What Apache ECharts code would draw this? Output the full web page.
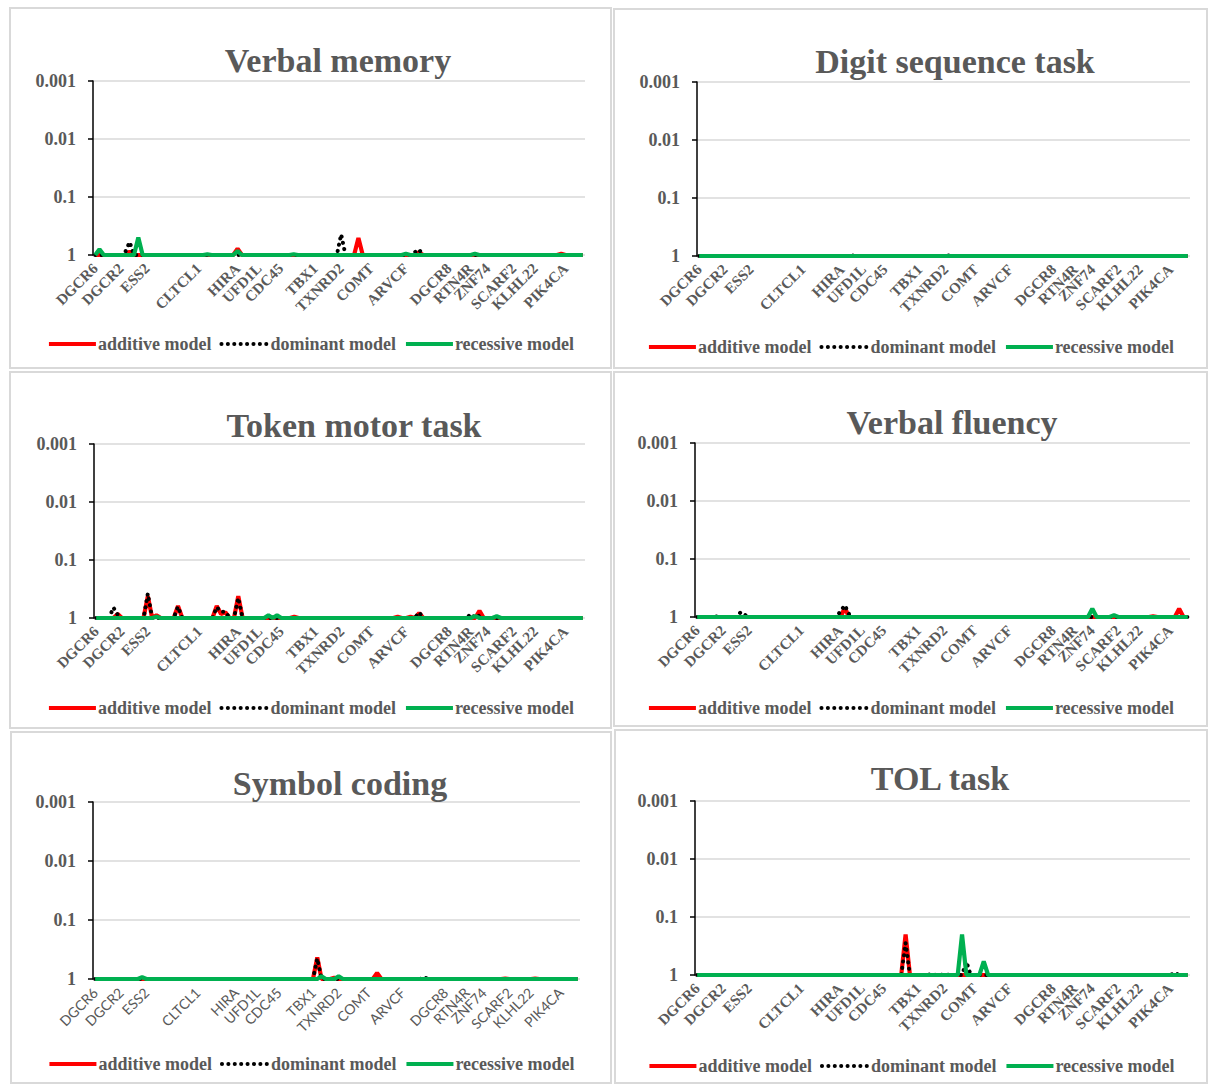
<!DOCTYPE html>
<html>
<head>
<meta charset="utf-8">
<script src="https://cdn.jsdelivr.net/npm/echarts@6/dist/echarts.min.js"></script>
<style>
  html, body { margin: 0; padding: 0; background: #fff; width: 1210px; height: 1084px; overflow: hidden; }
  .frame { position: absolute; box-sizing: border-box; border: 2px solid #d9d9d9; background: #fff; }
  .chart { position: absolute; }
</style>
</head>
<body>
<script>
// Genes of the 22q11 region, in chromosomal order, with the number of SNPs typed in each
const geneNames = ['DGCR6', 'DGCR2', 'ESS2', 'CLTCL1', 'HIRA', 'UFD1L', 'CDC45', 'TBX1', 'TXNRD2',
  'COMT', 'ARVCF', 'DGCR8', 'RTN4R', 'ZNF74', 'SCARF2', 'KLHL22', 'PIK4CA'];
const snpCounts = [6, 6, 12, 9, 5, 5, 8, 6, 7, 8, 10, 5, 4, 6, 5, 7, 5];

const yTickLabels = ['0.001', '0.01', '0.1', '1'];
const seriesNames = ['additive model', 'dominant model', 'recessive model'];
const panelTitles = ['Verbal memory', 'Digit sequence task', 'Token motor task',
  'Verbal fluency', 'Symbol coding', 'TOL task'];

// P values per SNP (one row per gene, same order as geneNames)
const verbalMemoryAdditive = [
  1,1,1,1,1,1,
  1,1,0.88,1,1,1,
  1,1,1,1,1,1,1,1,1,1,1,1,
  1,1,1,1,1,1,1,1,1,
  0.78,1,1,1,1,
  1,1,1,1,1,
  1,1,1,1,1,1,1,1,
  1,1,1,1,1,1,
  1,1,1,1,0.51,1,1,
  1,1,1,1,1,1,1,1,
  1,1,1,0.9,1,1,1,1,1,1,
  1,1,1,1,1,
  1,1,1,1,
  1,1,1,1,1,1,
  1,1,1,1,1,
  1,1,1,1,1,1,0.95,
  1,1,1,1,1
];
const verbalMemoryDominant = [
  1,1,1,1,1,1,
  1,0.88,0.6,1,1,1,
  1,1,1,1,1,1,1,1,1,1,1,1,
  1,1,1,1,1,1,1,1,1,
  1,1,1,1,1,
  1,1,1,1,1,
  1,1,1,1,1,1,1,1,
  1,1,1,1,1,1,
  0.44,1,1,1,1,1,1,
  1,1,1,1,1,1,1,1,
  1,1,0.9,0.8,1,1,1,1,1,1,
  1,1,1,1,1,
  1,1,1,1,
  1,1,1,1,1,1,
  1,1,1,1,1,
  1,1,1,1,1,1,1,
  1,1,1,1,1
];
const verbalMemoryRecessive = [
  1,0.8,1,1,1,1,
  1,1,1,1,0.5,1,
  1,1,1,1,1,1,1,1,1,1,1,1,
  1,1,0.97,1,1,1,1,1,1,
  0.85,1,1,1,1,
  1,1,1,1,1,
  1,1,1,0.97,1,1,1,1,
  1,1,1,1,1,1,
  1,1,1,1,1,1,1,
  1,1,1,1,1,1,1,1,
  0.95,1,1,1,1,1,1,1,1,1,
  1,1,1,1,1,
  1,0.95,1,1,
  1,1,1,1,1,1,
  1,1,1,1,1,
  1,1,1,1,1,1,1,
  1,1,1,1,1
];

const digitSequenceAdditive = [
  1,1,1,1,1,1,
  1,1,1,1,1,1,
  1,1,1,1,1,1,1,1,1,1,1,1,
  1,1,1,1,1,1,1,1,1,
  1,1,1,1,1,
  1,1,1,1,1,
  1,1,1,1,1,1,1,1,
  1,1,1,1,1,1,
  1,1,1,1,1,1,1,
  1,1,1,1,1,1,1,1,
  1,1,1,1,1,1,1,1,1,1,
  1,1,1,1,1,
  1,1,1,1,
  1,1,1,1,1,1,
  1,1,1,1,1,
  1,1,1,1,1,1,1,
  1,1,1,1,1
];
const digitSequenceDominant = [
  1,1,1,1,1,1,
  1,1,1,1,1,1,
  1,1,1,1,1,1,1,1,1,1,1,1,
  1,1,1,1,1,1,1,1,1,
  1,1,1,0.97,1,
  1,1,1,1,1,
  1,1,1,1,1,1,1,1,
  1,1,1,1,1,1,
  1,0.97,1,1,1,1,1,
  1,1,1,1,1,1,1,1,
  1,1,1,1,1,1,1,1,1,1,
  1,1,1,1,1,
  1,1,1,1,
  1,1,1,1,1,1,
  1,1,1,1,1,
  1,1,1,1,1,1,1,
  1,1,1,1,1
];
const digitSequenceRecessive = [
  1,1,1,1,1,1,
  1,1,1,1,1,1,
  1,1,1,1,1,1,1,1,1,1,1,1,
  1,1,1,1,1,1,1,1,1,
  1,1,1,1,1,
  1,1,1,1,1,
  1,1,1,1,1,1,1,1,
  1,1,1,1,1,1,
  1,1,1,1,1,1,1,
  1,1,1,1,1,1,1,1,
  1,1,1,1,1,1,1,1,1,1,
  1,1,1,1,1,
  1,1,1,1,
  1,1,1,1,1,1,
  1,1,1,1,1,
  1,1,1,1,1,1,1,
  1,1,1,1,1
];

const tokenMotorAdditive = [
  1,1,1,1,1,0.85,
  1,1,1,1,1,1,
  0.42,1,0.9,1,1,1,1,0.62,1,1,1,1,
  1,1,1,1,0.62,0.85,0.8,1,1,
  0.42,1,1,1,1,
  1,1,1,1,1,
  1,1,1,0.95,1,1,1,1,
  1,1,1,1,1,1,
  1,1,1,1,1,1,1,
  1,1,1,1,1,1,0.95,1,
  1,0.95,1,0.82,1,1,1,1,1,1,
  1,1,1,1,1,
  1,1,0.75,1,
  1,1,1,1,1,1,
  1,1,1,1,1,
  1,1,1,1,1,1,1,
  1,1,1,1,1
];
const tokenMotorDominant = [
  1,1,1,1,0.66,0.88,
  1,1,1,1,1,1,
  0.38,1,1,1,1,1,1,0.64,1,1,1,1,
  1,1,1,1,0.65,0.78,0.78,1,1,
  0.45,1,1,1,1,
  1,1,1,1,1,
  1,1,1,1,1,1,1,1,
  1,1,1,1,1,1,
  1,1,1,1,1,1,1,
  1,1,1,1,1,1,1,1,
  1,1,1,0.8,1,1,1,1,1,1,
  1,1,1,1,1,
  0.85,1,0.9,1,
  1,1,1,1,1,1,
  1,1,1,1,1,
  1,1,1,1,1,1,1,
  1,1,1,1,1
];
const tokenMotorRecessive = [
  1,1,1,1,1,1,
  1,1,1,1,1,1,
  1,1,0.95,1,1,1,1,1,1,1,1,1,
  1,1,1,1,1,1,1,1,1,
  1,1,1,1,1,
  1,1,0.9,1,0.9,
  1,1,1,1,1,1,1,1,
  1,1,1,1,1,1,
  1,1,1,1,1,1,1,
  1,1,1,1,1,1,1,1,
  1,1,1,1,1,1,1,1,1,1,
  1,1,1,1,1,
  1,0.93,1,1,
  1,1,0.93,1,1,1,
  1,1,1,1,1,
  1,1,1,1,1,1,1,
  1,1,1,1,1
];

const verbalFluencyAdditive = [
  1,1,1,1,1,1,
  1,1,1,1,1,1,
  1,1,1,1,1,1,1,1,1,1,1,1,
  1,1,1,1,1,1,1,1,1,
  1,0.7,1,1,1,
  1,1,1,1,1,
  1,1,1,1,1,1,1,1,
  1,1,1,1,1,1,
  1,1,1,1,1,1,1,
  1,1,1,1,1,1,1,1,
  1,1,1,1,1,1,1,1,1,1,
  1,1,1,1,1,
  1,1,1,1,
  1,1,1,1,1,1,
  1,1,1,1,1,
  1,1,1,0.97,1,1,1,
  1,1,0.72,1,1
];
const verbalFluencyDominant = [
  1,1,1,1,0.97,1,
  1,1,1,1,0.83,0.92,
  1,1,1,1,1,1,1,1,1,1,1,1,
  1,1,1,1,1,1,1,1,1,
  0.8,0.63,0.9,1,1,
  1,1,1,1,1,
  1,1,1,1,1,1,1,1,
  1,1,1,1,1,1,
  1,1,1,1,1,1,1,
  1,1,1,1,1,1,1,1,
  1,1,1,1,1,1,1,1,1,1,
  1,1,1,1,1,
  1,1,1,1,
  1,1,1,1,1,1,
  1,1,1,1,1,
  1,1,1,1,1,1,1,
  1,1,1,1,1
];
const verbalFluencyRecessive = [
  1,1,1,1,1,1,
  1,1,1,1,1,1,
  1,1,1,1,1,1,1,1,1,1,1,1,
  1,1,1,1,1,1,1,1,1,
  1,1,1,1,1,
  1,1,1,1,1,
  1,1,1,1,1,1,1,1,
  1,1,1,1,1,1,
  1,1,1,1,1,1,1,
  1,1,1,1,1,1,1,1,
  1,1,1,1,1,1,1,1,1,1,
  1,1,1,1,1,
  1,1,1,1,
  0.72,1,1,1,1,0.93,
  1,1,1,1,1,
  1,1,1,1,1,1,1,
  1,1,1,1,1
];

const symbolCodingAdditive = [
  1,1,1,1,1,1,
  1,1,1,1,1,1,
  1,1,1,1,1,1,1,1,1,1,1,1,
  1,1,1,1,1,1,1,1,1,
  1,1,1,1,1,
  1,1,1,1,1,
  1,1,1,1,1,1,1,1,
  1,0.43,1,1,1,0.95,
  1,1,1,1,1,1,1,
  1,1,0.79,1,1,1,1,1,
  1,1,1,1,1,1,1,1,1,1,
  1,1,1,1,1,
  1,1,1,1,
  1,1,1,1,1,0.98,
  1,1,1,1,1,
  1,0.98,1,1,1,1,1,
  1,1,1,1,1
];
const symbolCodingDominant = [
  1,1,1,1,1,1,
  1,1,1,1,1,1,
  1,1,1,1,1,1,1,1,1,1,1,1,
  1,1,1,1,1,1,1,1,1,
  1,1,1,1,1,
  1,1,1,1,1,
  1,1,1,1,1,1,1,1,
  1,0.45,1,1,1,1,
  1,1,1,1,1,1,1,
  1,1,1,1,1,1,1,1,
  1,1,1,1,1,0.93,1,1,1,1,
  1,1,1,1,1,
  1,1,1,1,
  1,1,1,1,1,1,
  1,1,1,1,1,
  1,1,1,1,1,1,1,
  1,1,1,1,1
];
const symbolCodingRecessive = [
  1,1,1,1,1,1,
  1,1,1,1,1,0.93,
  1,1,1,1,1,1,1,1,1,1,1,1,
  1,1,1,1,1,1,1,1,1,
  1,1,1,1,1,
  1,1,1,1,1,
  1,1,1,1,1,1,1,1,
  1,1,0.9,1,1,1,
  0.9,1,1,1,1,1,1,
  1,1,1,1,1,1,1,1,
  1,1,1,1,1,1,1,1,1,1,
  1,1,1,1,1,
  1,1,1,1,
  1,1,1,1,1,1,
  1,1,1,1,1,
  1,1,1,1,1,1,1,
  1,1,1,1,1
];

const tolAdditive = [
  1,1,1,1,1,1,
  1,1,1,1,1,1,
  1,1,1,1,1,1,1,1,1,1,1,1,
  1,1,1,1,1,1,1,1,1,
  1,1,1,1,1,
  1,1,1,1,1,
  1,1,1,1,1,0.2,1,1,
  1,1,1,1,1,1,
  1,1,1,1,1,1,1,
  1,1,1,1,1,1,1,1,
  1,1,1,1,1,1,1,1,1,1,
  1,1,1,1,1,
  1,1,1,1,
  1,1,1,1,1,1,
  1,1,1,1,1,
  1,1,1,1,1,1,1,
  1,1,1,1,1
];
const tolDominant = [
  1,1,1,1,1,1,
  1,1,1,1,1,1,
  1,1,1,1,1,1,1,1,1,1,1,1,
  1,1,1,1,1,1,1,1,1,
  1,1,1,1,1,
  1,1,1,1,1,
  1,1,1,1,1,0.28,1,1,
  1,1,1,0.96,1,1,
  0.97,1,1,1,1,0.59,1,
  1,1,1,1,1,1,1,1,
  1,1,1,1,1,1,1,1,1,1,
  1,1,1,1,1,
  1,1,1,1,
  1,1,1,1,1,1,
  1,1,1,1,1,
  1,1,1,1,1,1,1,
  1,0.92,1,1,1
];
const tolRecessive = [
  1,1,1,1,1,1,
  1,1,1,1,1,1,
  1,1,1,1,1,1,1,1,1,1,1,1,
  1,1,1,1,1,1,1,1,1,
  1,1,1,1,1,
  1,1,1,1,1,
  1,1,1,1,1,1,1,1,
  1,1,1,1,1,1,
  1,1,1,1,0.2,1,1,
  1,1,0.58,1,1,1,1,1,
  1,1,1,1,1,1,1,1,1,1,
  1,1,1,1,1,
  1,1,1,1,
  1,1,1,1,1,1,
  1,1,1,1,1,
  1,1,1,1,1,1,1,
  1,1,1,1,1
];

// SNP categories: the gene name is printed under the first SNP of each gene
const snpIds = [];
const snpLabels = [];
geneNames.forEach((g, gi) => {
  for (let k = 1; k <= snpCounts[gi]; k++) {
    snpIds.push(g + '_' + k);
    snpLabels.push(k === 1 ? g : '');
  }
});

const SERIF = '"Liberation Serif", "Times New Roman", serif';
const SANS = 'Lato, "Liberation Sans", sans-serif';
const TEXT = '#595959';
const seriesColors = ['#ff0000', '#000000', '#00b050'];
const lineStyles = [
  { color: seriesColors[0], width: 4.2 },
  { color: seriesColors[1], width: 4, type: [0.1, 6.3], cap: 'round' },
  { color: seriesColors[2], width: 4.2 }
];

// Page layout of the six panels (absolute pixel positions)
const panels = [
  { box: [9, 7, 603, 362],   plot: [93, 81, 585, 255],   titleAt: [338, 60],  legendAt: [313, 344],
    title: panelTitles[0], data: [verbalMemoryAdditive, verbalMemoryDominant, verbalMemoryRecessive], sansLabels: false },
  { box: [613, 8, 595, 361],  plot: [697, 82, 1190, 256], titleAt: [955, 61],  legendAt: [917, 347],
    title: panelTitles[1], data: [digitSequenceAdditive, digitSequenceDominant, digitSequenceRecessive], sansLabels: false },
  { box: [9, 371, 603, 358],  plot: [94, 444, 585, 618],  titleAt: [354, 425], legendAt: [314, 708],
    title: panelTitles[2], data: [tokenMotorAdditive, tokenMotorDominant, tokenMotorRecessive], sansLabels: false },
  { box: [613, 371, 595, 356], plot: [695, 443, 1190, 617], titleAt: [952, 422], legendAt: [918, 708],
    title: panelTitles[3], data: [verbalFluencyAdditive, verbalFluencyDominant, verbalFluencyRecessive], sansLabels: false },
  { box: [10, 731, 602, 353], plot: [93, 802, 580, 979],  titleAt: [340, 783], legendAt: [313, 1064],
    title: panelTitles[4], data: [symbolCodingAdditive, symbolCodingDominant, symbolCodingRecessive], sansLabels: true },
  { box: [614, 729, 594, 355], plot: [695, 801, 1190, 975], titleAt: [940, 778], legendAt: [918, 1066],
    title: panelTitles[5], data: [tolAdditive, tolDominant, tolRecessive], sansLabels: false }
];

const BORDER = 2;
const TITLE_SIZE = 34;
const LEGEND_SIZE = 18;

panels.forEach((p) => {
  const [bx, by, bw, bh] = p.box;
  const frame = document.createElement('div');
  frame.className = 'frame';
  Object.assign(frame.style, { left: bx + 'px', top: by + 'px', width: bw + 'px', height: bh + 'px' });
  document.body.appendChild(frame);

  const ox = bx + BORDER, oy = by + BORDER;
  const cw = bw - 2 * BORDER, ch = bh - 2 * BORDER;
  const holder = document.createElement('div');
  holder.className = 'chart';
  Object.assign(holder.style, { left: ox + 'px', top: oy + 'px', width: cw + 'px', height: ch + 'px' });
  document.body.appendChild(holder);

  const [x0, y0, x1, y1] = p.plot;
  const shift = p.legendAt[0] - (ox + cw / 2);
  const chart = echarts.init(holder, null, { renderer: 'svg', width: cw, height: ch });

  chart.setOption({
    animation: false,
    backgroundColor: 'transparent',
    color: seriesColors,
    title: {
      text: p.title,
      left: p.titleAt[0] - ox,
      top: p.titleAt[1] - oy - TITLE_SIZE / 2,
      padding: 0,
      textAlign: 'center',
      textStyle: { fontFamily: SERIF, fontWeight: 'bold', fontSize: TITLE_SIZE, color: TEXT }
    },
    legend: {
      data: seriesNames,
      left: 'center',
      top: p.legendAt[1] - oy - 9,
      padding: [0, Math.max(0, -2 * shift), 0, Math.max(0, 2 * shift)],
      itemWidth: 47,
      itemHeight: 14,
      itemGap: 8,
      selectedMode: false,
      itemStyle: { opacity: 0 },
      lineStyle: { width: 4 },
      textStyle: { fontFamily: SERIF, fontWeight: 'bold', fontSize: LEGEND_SIZE, color: TEXT, padding: [0, 0, 0, -3] }
    },
    grid: {
      left: x0 - ox, top: y0 - oy, width: x1 - x0, height: y1 - y0,
      containLabel: false, outerBoundsMode: 'none'
    },
    xAxis: {
      type: 'category',
      data: snpIds,
      boundaryGap: true,
      axisLine: { show: false },
      axisTick: { show: false },
      splitLine: { show: false },
      axisLabel: {
        interval: 0,
        rotate: 45,
        margin: 11,
        hideOverlap: false,
        color: TEXT,
        fontFamily: p.sansLabels ? SANS : SERIF,
        fontWeight: p.sansLabels ? 'normal' : 'bold',
        fontSize: p.sansLabels ? 14 : 15,
        formatter: (v, i) => snpLabels[i]
      }
    },
    yAxis: {
      type: 'log',
      logBase: 10,
      min: 0.001,
      max: 1,
      inverse: true,
      axisLine: { show: true, lineStyle: { color: '#000', width: 1.5 } },
      axisTick: { show: true, length: 5, lineStyle: { color: '#000', width: 1.5 } },
      splitLine: { show: true, lineStyle: { color: '#d9d9d9', width: 1.5 } },
      axisLabel: {
        margin: 17,
        color: TEXT,
        fontFamily: SERIF,
        fontWeight: 'bold',
        fontSize: 18,
        formatter: (v) => yTickLabels[Math.round(Math.log10(v)) + 3]
      }
    },
    series: p.data.map((values, si) => ({
      name: seriesNames[si],
      type: 'line',
      data: values,
      symbol: 'none',
      showSymbol: false,
      silent: true,
      z: 2 + si,
      emphasis: { disabled: true },
      itemStyle: { color: seriesColors[si] },
      lineStyle: lineStyles[si]
    }))
  });
});
</script>
</body>
</html>
